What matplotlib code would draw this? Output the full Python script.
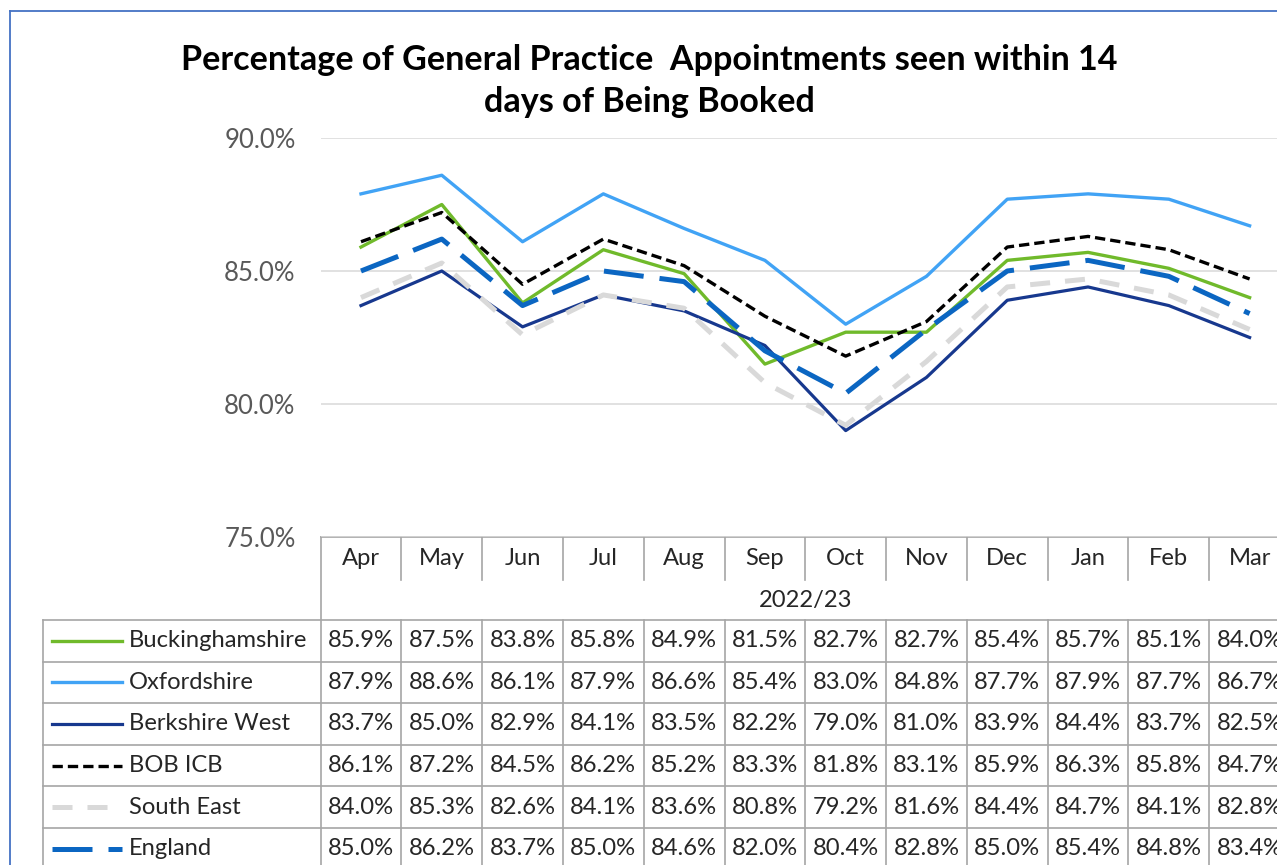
import matplotlib
matplotlib.use('Agg')
import matplotlib.pyplot as plt
import matplotlib.transforms as mtransforms

# ---------------- data ----------------
months = ['Apr', 'May', 'Jun', 'Jul', 'Aug', 'Sep', 'Oct', 'Nov', 'Dec', 'Jan', 'Feb', 'Mar']
period_label = '2022/23'
series_names = ['Buckinghamshire', 'Oxfordshire', 'Berkshire West', 'BOB ICB', 'South East', 'England']
buckinghamshire = [85.9, 87.5, 83.8, 85.8, 84.9, 81.5, 82.7, 82.7, 85.4, 85.7, 85.1, 84.0]
oxfordshire = [87.9, 88.6, 86.1, 87.9, 86.6, 85.4, 83.0, 84.8, 87.7, 87.9, 87.7, 86.7]
berkshire_west = [83.7, 85.0, 82.9, 84.1, 83.5, 82.2, 79.0, 81.0, 83.9, 84.4, 83.7, 82.5]
bob_icb = [86.1, 87.2, 84.5, 86.2, 85.2, 83.3, 81.8, 83.1, 85.9, 86.3, 85.8, 84.7]
south_east = [84.0, 85.3, 82.6, 84.1, 83.6, 80.8, 79.2, 81.6, 84.4, 84.7, 84.1, 82.8]
england = [85.0, 86.2, 83.7, 85.0, 84.6, 82.0, 80.4, 82.8, 85.0, 85.4, 84.8, 83.4]
y_ticks = [75.0, 80.0, 85.0, 90.0]
title_lines = ['Percentage of General Practice  Appointments seen within 14',
               'days of Being Booked']

series_values = [buckinghamshire, oxfordshire, berkshire_west, bob_icb, south_east, england]

# ---------------- styles ----------------
styles = [
    dict(color='#70BA2B', lw=2.4, ls='-'),
    dict(color='#41A3F5', lw=2.4, ls='-'),
    dict(color='#17388E', lw=2.3, ls='-'),
    dict(color='#000000', lw=2.4, ls=(0, (3.1, 1.5))),
    dict(color='#D9D9D9', lw=3.6, ls=(0, (4.0, 3.0))),
    dict(color='#0B66C2', lw=3.6, ls=(0, (8.0, 3.2))),
]

FONT = 'Lato'
W, H = 1277, 865
fig = plt.figure(figsize=(W / 100, H / 100), dpi=100)
fig.patch.set_facecolor('white')

# overlay axes in pixel coordinates (y downwards)
ov = fig.add_axes([0, 0, 1, 1], zorder=0)
ov.set_xlim(0, W)
ov.set_ylim(H, 0)
ov.axis('off')

# main plot axes: x columns from 320.6 to 1290 px, y 75%..90% from 537 to 138 px
left_px, right_px = 320.6, 1290.0
top_px, bot_px = 138.0, 537.0
ax = fig.add_axes([left_px / W, (H - bot_px) / H, (right_px - left_px) / W, (bot_px - top_px) / H],
                  zorder=2)
ax.patch.set_alpha(0)
x = list(range(len(months)))
ax.set_xlim(-0.5, len(months) - 0.5)
ax.set_ylim(y_ticks[0], y_ticks[-1])
for s in ax.spines.values():
    s.set_visible(False)
ax.set_xticks([])
ax.set_yticks(y_ticks)
ax.set_yticklabels([f'{v:.1f}%' for v in y_ticks])
ax.tick_params(axis='y', length=0, pad=18, labelsize=18.5, labelcolor='#595959')
for lab in ax.get_yticklabels():
    lab.set_family(FONT)
ax.grid(axis='y', color='#D9D9D9', lw=1.1)
ax.set_axisbelow(True)

for vals, st in zip(series_values, styles):
    ax.plot(x, vals, color=st['color'], lw=st['lw'], linestyle=st['ls'],
            solid_joinstyle='round', dash_capstyle='butt')

# ---------------- title ----------------
renderer = fig.canvas.get_renderer()


def fit_size(text, target_px, **kw):
    t = fig.text(0, 0, text, fontsize=20, **kw)
    w = t.get_window_extent(renderer=renderer).width
    t.remove()
    return 20 * target_px / w


tsize = fit_size(title_lines[0], 938, family=FONT, fontweight='bold')
ov.text(649, 70, title_lines[0], ha='center', va='baseline', fontsize=tsize,
        family=FONT, fontweight='bold', color='black')
ov.text(649, 112, title_lines[1], ha='center', va='baseline', fontsize=tsize,
        family=FONT, fontweight='bold', color='black')

# ---------------- data table ----------------
tc = '#A6A6A6'
tlw = 1.2
txt_color = '#262626'
tsize_tab = fit_size('85.9%', 66, family=FONT)
bl = mtransforms.blended_transform_factory(ax.transData, ov.transData)

edges = [i - 0.5 for i in range(len(months) + 1)]
hdr_top, hdr_bot, per_bot = 537.0, 580.0, 620.0
row_h = 41.6
n_rows = len(series_names)
table_bot = per_bot + row_h * n_rows

# top border of header + left border
ov.plot([left_px, W + 20], [hdr_top, hdr_top], color=tc, lw=tlw, clip_on=False)
ov.plot([left_px, left_px], [hdr_top, table_bot], color=tc, lw=tlw, clip_on=False)
# month separators (header only) and data-row separators
for e in edges[1:]:
    ov.plot([e, e], [hdr_top, hdr_bot], color=tc, lw=tlw, transform=bl, clip_on=False)
    ov.plot([e, e], [per_bot, table_bot], color=tc, lw=tlw, transform=bl, clip_on=False)
# horizontal row lines
leg_left = 43.0
for r in range(n_rows + 1):
    y = per_bot + r * row_h
    ov.plot([leg_left, W + 20], [y, y], color=tc, lw=tlw, clip_on=False)
ov.plot([leg_left, leg_left], [per_bot, table_bot], color=tc, lw=tlw, clip_on=False)

# header texts
for i, m in enumerate(months):
    ov.text(i, (hdr_top + hdr_bot) / 2, m, transform=bl, ha='center', va='center',
            fontsize=tsize_tab, family=FONT, color=txt_color)
ov.text((len(months) - 1) / 2, (hdr_bot + per_bot) / 2, period_label, transform=bl,
        ha='center', va='center', fontsize=tsize_tab, family=FONT, color=txt_color)

# rows
for r, (name, vals, st) in enumerate(zip(series_names, series_values, styles)):
    yc = per_bot + r * row_h + row_h / 2
    ov.plot([52, 122], [yc, yc], color=st['color'], lw=st['lw'], linestyle=st['ls'],
            dash_capstyle='butt')
    ov.text(129, yc, name, ha='left', va='center', fontsize=tsize_tab, family=FONT,
            color=txt_color)
    for i, v in enumerate(vals):
        ov.text(i, yc, f'{v:.1f}%', transform=bl, ha='center', va='center',
                fontsize=tsize_tab, family=FONT, color=txt_color)

# chart-area border (left and top edges visible)
ov.plot([10, 10], [11, H + 5], color='#4472C4', lw=1.3, clip_on=False)
ov.plot([10, W + 5], [11, 11], color='#4472C4', lw=1.3, clip_on=False)

fig.savefig('out.png', dpi=100, facecolor='white')
